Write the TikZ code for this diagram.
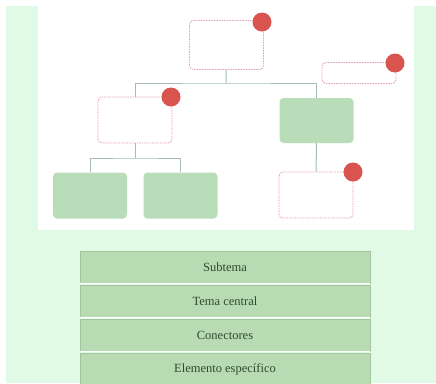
\documentclass[tikz,border=0pt]{standalone}
\usepackage{fontspec}
\setmainfont{Liberation Serif}
\usetikzlibrary{calc}
\definecolor{PanelGreen}{HTML}{E1FAE5}
\definecolor{BoxGreen}{HTML}{B9DDB9}
\definecolor{RowGreen}{HTML}{B8DBB4}
\definecolor{RowLine}{HTML}{A2C49E}
\definecolor{DotRed}{HTML}{D9534F}
\definecolor{EdgePink}{HTML}{E6A3AA}
\definecolor{LinkGray}{HTML}{A6BCBA}
\definecolor{TextGreen}{HTML}{2E4A2E}

\begin{document}
\begin{tikzpicture}[x=1pt, y=-1pt]
				\tikzstyle{idea}=[draw=EdgePink, line width=0.8pt, dash pattern=on 1.6pt off 1pt, rounded corners=4pt, fill=white, minimum width=74pt, inner sep=0pt];
				\tikzstyle{hoja}=[fill=BoxGreen, rounded corners=4pt, minimum width=74pt, minimum height=46pt, inner sep=0pt];
				\tikzstyle{marca}=[fill=DotRed, circle, minimum size=19pt, inner sep=0pt];
				\tikzstyle{conector}=[draw=LinkGray, line width=1pt];
				\tikzstyle{fila}=[fill=RowGreen, draw=RowLine, line width=0.5pt, minimum width=290pt, minimum height=32pt, inner sep=0pt, text=TextGreen, font=\fontsize{12.5}{14}\selectfont];
				\useasboundingbox (0,0) rectangle (436,383);
				\fill[white] (0,0) rectangle (436,383);
				\fill[PanelGreen] (6,6) rectangle (436,383);
				\fill[white] (38,6) rectangle (414,230);
				\node [idea, minimum height=49pt] (tema) at (226.5,45) {};
				\node [idea, minimum height=21pt] (nota) at (359,73) {};
				\node [idea, minimum height=46pt] (sub1) at (135,120) {};
				\node [hoja, minimum height=45pt] (sub2) at (316.5,120.5) {};
				\node [hoja] (hijo1) at (90,195.5) {};
				\node [hoja] (hijo2) at (180.5,195.5) {};
				\node [idea, minimum height=46pt] (hijo3) at (316,195) {};
				\coordinate (rama1) at (226,83);
				\coordinate (rama2) at (135,158);
				\draw[conector] (tema) -- (rama1);
				\draw[conector] (sub1.north) |- (rama1) -| (sub2.north);
				\draw[conector] (sub1) -- (rama2);
				\draw[conector] (hijo1.north) |- (rama2) -| (hijo2.north);
				\draw[conector] (sub2) -- (hijo3);
				\node [marca] (m1) at (262,22) {};
				\node [marca] (m2) at (395,63) {};
				\node [marca] (m3) at (171,97) {};
				\node [marca] (m4) at (353,172) {};
				\node [fila] (f1) at (225,267) {Subtema};
				\node [fila] (f2) at (225,301) {Tema central};
				\node [fila] (f3) at (225,335) {Conectores};
				\node [fila] (f4) at (225,369) {Elemento específico};
				\draw[white, line width=1.2pt] (f1.south west) -- (f1.south east);
				\draw[white, line width=1.2pt] (f2.south west) -- (f2.south east);
				\draw[white, line width=1.2pt] (f3.south west) -- (f3.south east);
			\end{tikzpicture}
\end{document}
